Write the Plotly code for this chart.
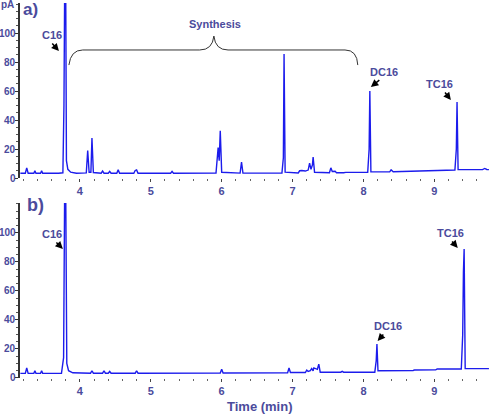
import plotly.graph_objects as go

# ---- data ----
time_a = [3.16, 3.23, 3.25, 3.27, 3.35, 3.365, 3.38, 3.445, 3.46, 3.475, 3.70, 3.76, 3.775, 3.785, 3.80, 3.81,
          3.83, 3.87, 3.95, 4.09, 4.11, 4.13, 4.155, 4.17, 4.19, 4.30, 4.32, 4.34, 4.40, 4.42, 4.44, 4.52, 4.54,
          4.56, 4.76, 4.78, 4.80, 4.82, 5.28, 5.30, 5.32, 5.92, 5.95, 5.965, 5.98, 6.00, 6.26, 6.28, 6.30, 6.55,
          6.57, 6.59, 6.70, 6.72, 6.74, 6.85, 6.87, 6.88, 6.895, 7.08, 7.10, 7.13, 7.18, 7.22, 7.24, 7.26, 7.28,
          7.29, 7.31, 7.52, 7.54, 7.56, 7.60, 7.62, 7.72, 7.75, 8.06, 8.08, 8.09, 8.105, 8.37, 8.39, 8.42, 8.60,
          8.90, 8.92, 9.29, 9.31, 9.32, 9.335, 9.68, 9.71, 9.74, 9.77]
signal_a = [3.3, 3.3, 7.0, 3.3, 3.3, 5.0, 3.3, 3.3, 5.0, 3.3, 3.3, 3.6, 50, 130, 130, 12,
            6, 4, 3.3, 3.5, 19, 4, 4, 27.5, 3.8, 3.3, 4.8, 3.3, 3.3, 4.6, 3.3, 3.3, 5.6,
            3.3, 3.3, 5.2, 5.6, 3.3, 3.3, 4.6, 3.3, 3.4, 21, 12, 32.5, 4, 3.4, 11, 3.4, 3.4,
            3.8, 3.4, 3.4, 3.8, 3.4, 3.5, 14, 85.5, 4, 3.5, 5.0, 5.2, 4.8, 5.5, 10.2, 6, 9,
            14.5, 4, 3.6, 7, 4.5, 4.6, 3.6, 3.6, 3.9, 3.9, 20, 60, 4.2, 4.2, 5.6, 4.3, 4.5,
            4.8, 5.3, 5.5, 20, 52.5, 5.8, 5.8, 6.6, 5.9, 5.8]

time_b = [3.16, 3.23, 3.25, 3.27, 3.35, 3.365, 3.38, 3.445, 3.46, 3.475, 3.74, 3.77, 3.785, 3.80, 3.815,
          3.84, 3.90, 4.00, 4.15, 4.17, 4.19, 4.32, 4.34, 4.36, 4.40, 4.42, 4.44, 4.78, 4.80, 4.82, 5.98, 6.00,
          6.02, 6.93, 6.95, 6.97, 7.18, 7.20, 7.22, 7.25, 7.27, 7.29, 7.30, 7.35, 7.37, 7.39, 7.68, 7.70, 7.72,
          8.16, 8.18, 8.19, 8.205, 8.70, 8.72, 9.02, 9.04, 9.38, 9.40, 9.41, 9.42, 9.435, 9.77]
signal_b = [3.2, 3.2, 6.9, 3.2, 3.2, 5.0, 3.2, 3.2, 5.0, 3.2, 3.2, 14, 130, 130, 10,
            5, 3.6, 3.3, 3.3, 5.0, 3.3, 3.3, 5.0, 3.3, 3.3, 4.5, 3.3, 3.3, 5.0, 3.3, 3.5, 6.0,
            3.5, 3.6, 6.9, 3.8, 3.8, 5.5, 4.5, 5.0, 6.5, 5.0, 7.0, 6.0, 9.6, 4.0, 4.0, 4.6, 4.0,
            4.0, 12, 23.4, 5.0, 5.2, 5.5, 5.6, 6.2, 6.2, 30, 73, 89, 6.5, 6.5]

y_ticks = [0, 20, 40, 60, 80, 100]
y_labels = ["0", "20", "40", "60", "80", "100"]
x_ticks = [4, 5, 6, 7, 8, 9]

TXT = "#4b4b9c"
LINE = "#1c1cec"
FONT = "Liberation Sans"

fig = go.Figure()
fig.add_trace(go.Scatter(x=time_a, y=signal_a, mode="lines", line=dict(color=LINE, width=1.4),
                         xaxis="x", yaxis="y", showlegend=False))
fig.add_trace(go.Scatter(x=time_b, y=signal_b, mode="lines", line=dict(color=LINE, width=1.4),
                         xaxis="x2", yaxis="y2", showlegend=False))

xr = [3.155, 9.785]
yr = [0, 120.7]
tickfont = dict(family=FONT, size=11, color=TXT, weight="bold")

def xax(anchor):
    return dict(range=xr, domain=[0, 1], anchor=anchor, automargin=False, showline=False, showgrid=False,
                zeroline=False, tickvals=x_ticks, ticks="outside", ticklen=3, tickwidth=1, tickcolor="#444",
                minor=dict(dtick=0.2, tick0=0, ticks="outside", ticklen=2, tickcolor="#666"),
                tickfont=tickfont)

def yax(anchor, dom):
    return dict(range=yr, domain=dom, anchor=anchor, automargin=False, showline=True, linecolor="#333",
                linewidth=1.5, showgrid=False, zeroline=False, tickvals=y_ticks, ticks="outside", ticklen=3,
                tickcolor="#333", minor=dict(dtick=5, ticks="outside", ticklen=2, tickcolor="#555"),
                showticklabels=False)

fig.update_layout(
    width=503, height=416, margin=dict(l=20, r=13, t=3, b=38, autoexpand=False),
    paper_bgcolor="white", plot_bgcolor="white",
    xaxis=xax("y"), yaxis=yax("x", [0.5333, 1.0]),
    xaxis2=xax("y2"), yaxis2=yax("x2", [0.0, 0.4667]),
)

anns = []

def label(text, x, y, xref, yref, size=11):
    anns.append(dict(text=text, x=x, y=y, xref=xref, yref=yref, showarrow=False,
                     font=dict(family=FONT, size=size, color=TXT, weight="bold"),
                     xanchor="center", yanchor="middle"))

def arrow(x, y, xref, yref, ax, ay):
    anns.append(dict(text="", x=x, y=y, xref=xref, yref=yref, showarrow=True, ax=ax, ay=ay,
                     arrowhead=2, arrowsize=1, arrowwidth=1.5, arrowcolor="black"))

# y tick labels (placed at the axis's own tick values)
for yref in ("y", "y2"):
    for v, t in zip(y_ticks, y_labels):
        anns.append(dict(text=t, x=0, xref="paper", y=v, yref=yref, showarrow=False,
                         xanchor="right", yanchor="middle", xshift=-3, borderpad=0,
                         font=dict(family=FONT, size=10, color=TXT, weight="bold")))

# top panel
label("C16", 3.60, 98.3, "x", "y")
arrow(3.704, 87.6, "x", "y", -8, -9)
label("DC16", 8.288, 73.1, "x", "y")
arrow(8.104, 62.8, "x", "y", 10, -8)
label("TC16", 9.078, 64.8, "x", "y")
arrow(9.233, 53.8, "x", "y", -7, -9)
label("Synthesis", 5.904, 106.2, "x", "y")
# bottom panel
label("C16", 3.605, 99.3, "x2", "y2")
arrow(3.76, 89.0, "x2", "y2", -8, -8)
label("DC16", 8.344, 35.9, "x2", "y2")
arrow(8.20, 25.5, "x2", "y2", 7, -8)
label("TC16", 9.233, 100.0, "x2", "y2")
arrow(9.33, 89.7, "x2", "y2", -7, -8)

# panel letters, unit, axis title
label("a)", 0.0234, 0.984, "paper", "paper", size=17)
label("b)", 0.034, 0.4613, "paper", "paper", size=18)
label("pA", -0.027, 0.995, "paper", "paper", size=10)
label("Time (min)", 0.51, -0.0747, "paper", "paper", size=13)

fig.update_layout(annotations=anns)

# curly brace over the synthesis region
fig.add_shape(type="path", xref="x", yref="y",
              path="M 3.845,77.9 Q 3.87,88.3 4.04,88.3 L 5.69,88.3 Q 5.87,88.3 5.89,97.9 "
                   "Q 5.91,88.3 6.09,88.3 L 7.74,88.3 Q 7.91,88.3 7.92,77.9",
              line=dict(color="#333", width=1))

fig.write_html("out.html")
